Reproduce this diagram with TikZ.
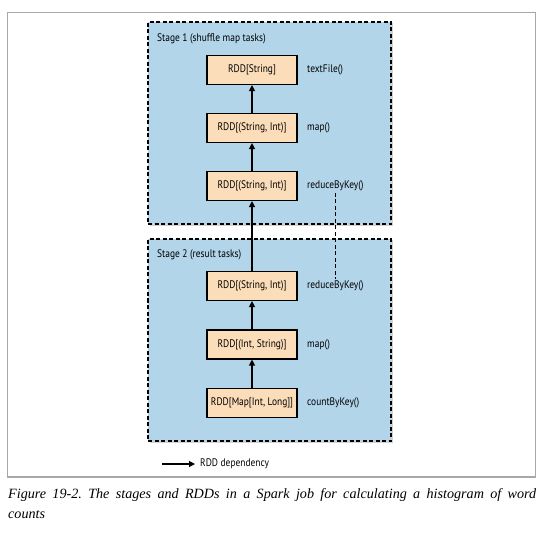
\documentclass[tikz,border=0pt]{standalone}
\usepackage{fontspec}
\setmainfont{Liberation Serif}
\newfontfamily\diagfont{PT Sans}[FakeStretch=0.86]
\usetikzlibrary{arrows.meta, positioning, shadows}
\definecolor{stageBlue}{HTML}{B2D5EA}
\definecolor{rddPeach}{HTML}{FCDDBA}
\definecolor{frameGray}{HTML}{A8A8A8}

\begin{document}
\begin{tikzpicture}[
    x=1bp, y=-1bp,
    stagebox/.style={rectangle, draw=black, fill=stageBlue, line width=1.3bp,
                     dash pattern=on 4bp off 2.5bp,
                     drop shadow={shadow xshift=1.5bp, shadow yshift=-1.5bp,
                                  fill=black!35},
                     minimum width=243bp, minimum height=202bp},
    rdd/.style={rectangle, draw=black, fill=rddPeach, line width=1.1bp,
                minimum width=90bp, minimum height=29bp, inner sep=1bp,
                font=\diagfont\fontsize{11}{13}\selectfont},
    op/.style={anchor=west, inner sep=0pt, font=\diagfont\fontsize{11}{13}\selectfont},
    ttl/.style={anchor=west, inner sep=0pt, font=\diagfont\fontsize{11}{13}\selectfont},
    dep/.style={line width=1.1bp, -{Triangle[length=6bp, width=6bp]}},
  ]
    \useasboundingbox (0,0) rectangle (546,537);
    \draw[frameGray, line width=1.4bp] (7.5,12.5) rectangle (535.5,477);

    % stages
    \node[stagebox] (stA) at (269.5,123) {};
    \node[ttl] (stAttl) at (157,39) {Stage 1 (shuffle map tasks)};
    \node[stagebox] (stB) at (269.5,340) {};
    \node[ttl] (stBttl) at (157,255) {Stage 2 (result tasks)};

    % stage 1 RDDs
    \node[rdd] (textRdd) at (252,70) {RDD[String]};
    \node[rdd] (mapRddA) at (252,128) {RDD[(String, Int)]};
    \node[rdd] (redRddA) at (252,186) {RDD[(String, Int)]};
    \node[op] (textOp) at (307,70) {textFile()};
    \node[op] (mapOpA) at (307,128) {map()};
    \node[op] (redOpA) at (307,186) {reduceByKey()};

    % stage 2 RDDs
    \node[rdd] (redRddB) at (252,286) {RDD[(String, Int)]};
    \node[rdd] (mapRddB) at (252,344.5) {RDD[(Int, String)]};
    \node[rdd] (cntRdd) at (252,403) {RDD[Map[Int, Long]]};
    \node[op] (redOpB) at (307,286) {reduceByKey()};
    \node[op] (mapOpB) at (307,344.5) {map()};
    \node[op] (cntOp) at (307,403) {countByKey()};

    % dependencies
    \draw[dep] (mapRddA) -- (textRdd);
    \draw[dep] (redRddA) -- (mapRddA);
    \draw[dep] (redRddB) -- (redRddA);
    \draw[dep] (mapRddB) -- (redRddB);
    \draw[dep] (cntRdd) -- (mapRddB);
    \draw[line width=1.1bp, dash pattern=on 4bp off 2.5bp]
      ([yshift=-1.5bp]redOpA.south) -- ([yshift=2bp]redOpB.north);

    % legend
    \coordinate (legS) at (162,464);
    \node[op] (legTxt) at (200,464) {RDD dependency};
    \draw[dep] (legS) -- ([xshift=-5bp]legTxt.west);

    % caption
    \node[anchor=north west, inner sep=0pt, text width=528bp, align=justify,
          font=\frenchspacing\itshape\fontsize{14.2}{20}\selectfont] (cap) at (8,488)
      {Figure 19-2. The stages and RDDs in a Spark job for calculating a histogram of word\linebreak counts};
\end{tikzpicture}
\end{document}
